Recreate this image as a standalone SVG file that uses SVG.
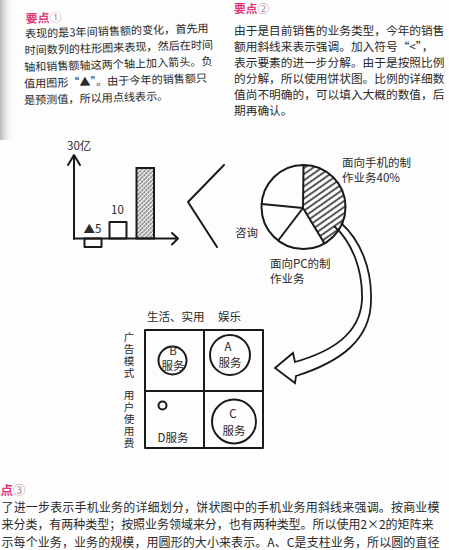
<svg xmlns="http://www.w3.org/2000/svg" width="449" height="550" viewBox="0 0 449 550">
<defs>
<linearGradient id="edge" x1="0" x2="1" y1="0" y2="0"><stop offset="0" stop-color="#b8b8b8"/><stop offset="1" stop-color="#ffffff" stop-opacity="0"/></linearGradient>
<pattern id="hatchBar" width="3" height="3" patternUnits="userSpaceOnUse" patternTransform="rotate(45)"><line x1="1" y1="0" x2="1" y2="3" stroke="#111" stroke-width="1" stroke-dasharray="1.8 0.7"/></pattern>
<pattern id="hatchPie" width="5" height="5" patternUnits="userSpaceOnUse" patternTransform="rotate(55)"><line x1="2" y1="0" x2="2" y2="5" stroke="#111" stroke-width="1.4"/></pattern>
</defs>
<style>
.t{font-family:"Noto Sans CJK SC","Noto Sans",sans-serif;fill:#2a2a2a}
.h{font-family:"Noto Sans CJK SC",sans-serif;font-weight:bold;fill:#e0387f}
.n{fill:#b58aa0;font-weight:normal}
.s{fill:none;stroke:#1a1a1a;stroke-width:2;stroke-linejoin:round;stroke-linecap:round}
.lb{font-family:"Noto Sans CJK SC","Noto Sans",sans-serif;fill:#2a2a2a;font-size:11.5px}
.v{font-size:10.6px;writing-mode:vertical-rl;letter-spacing:1.4px}
.c{text-anchor:middle}
</style>
<rect x="0" y="0" width="449" height="550" fill="#fdfdfd"/>
<rect x="0" y="0" width="14" height="140" fill="url(#edge)"/>

<g id="note1" transform="rotate(-1.8 115 65)">
<text class="h" x="27" y="20.2" font-size="12">要点<tspan class="n">①</tspan></text>
<text class="t" font-size="11.1"><tspan x="26" y="35.1">表现的是3年间销售额的变化，首先用</tspan><tspan x="25" y="51.7">时间数列的柱形图来表现，然后在时间</tspan><tspan x="24" y="68.3">轴和销售额轴这两个轴上加入箭头。负</tspan><tspan x="23.5" y="84.9">值用图形“▲”。由于今年的销售额只</tspan><tspan x="23" y="101.5">是预测值，所以用点线表示。</tspan></text>
</g>

<g id="note2">
<text class="h" x="234" y="12.5" font-size="11.7">要点<tspan class="n">②</tspan></text>
<text class="t" font-size="11.7"><tspan x="234" y="35.4">由于是目前销售的业务类型，今年的销售</tspan><tspan x="234" y="51.4">额用斜线来表示强调。加入符号“&lt;”，</tspan><tspan x="234" y="67.4">表示要素的进一步分解。由于是按照比例</tspan><tspan x="234" y="83.4">的分解，所以使用饼状图。比例的详细数</tspan><tspan x="234" y="99.4">值尚不明确的，可以填入大概的数值，后</tspan><tspan x="234" y="115.4">期再确认。</tspan></text>
</g>

<g id="bar-chart">
<text class="lb" x="67" y="149.5" font-size="11.5">30亿</text>
<path class="s" d="M74 239 V156 M68 165 L74 155 L80 165"/>
<path class="s" d="M74 238.5 H177 M172 233 L178 238.5 L172 244.5"/>
<rect class="s" x="84.5" y="238.5" width="17" height="8.5"/>
<text class="lb" x="83.5" y="233.2" font-size="10.5">▲5</text>
<rect class="s" x="109.5" y="222" width="17" height="16.5"/>
<text class="lb c" x="117.5" y="214.3" font-size="11">10</text>
<rect x="136.5" y="168" width="17.5" height="70.5" fill="url(#hatchBar)" stroke="#1a1a1a" stroke-width="2"/>
</g>

<g id="less-than">
<path class="s" d="M224 165 L188 202 L217 247"/>
</g>

<g id="connectors">
<path d="M341 223 C360 240 372 268 371 300 C371 340 340 362 296 376 L295 383 L275 368 L293 353 L295 362 C330 352 360 335 362 300 C363 270 352 242 334 226" fill="#fff" stroke="#1a1a1a" stroke-width="1.8" stroke-linejoin="miter"/>
</g>

<g id="pie">
<path d="M303.5 207 L303.5 165 A42 42 0 0 1 324.5 243.4 Z" fill="url(#hatchPie)"/>
<circle class="s" cx="303.5" cy="207" r="42"/>
<path class="s" d="M303 208 L303.5 165 M303 208 L324.5 243.4 M303 208 L278.2 240.5 M303 208 L261.6 204.1"/>
<text class="lb"><tspan x="342" y="167.4">面向手机的制</tspan><tspan x="342" y="182.4">作业务40%</tspan></text>
<text class="lb" x="235" y="237.4">咨询</text>
<text class="lb"><tspan x="270" y="268.4">面向PC的制</tspan><tspan x="270" y="283.4">作业务</tspan></text>
</g>

<g id="matrix">
<rect class="s" x="145" y="330" width="118" height="118"/>
<path class="s" d="M204 330 V448 M145 391 H263"/>
<text class="lb" x="147" y="321.4">生活、实用</text>
<text class="lb" x="218" y="321.4">娱乐</text>
<text class="lb v" x="129" y="332">广告模式</text>
<text class="lb v" x="129" y="390">用户使用费</text>
</g>

<g id="service-b">
<circle class="s" cx="172.5" cy="360.5" r="14"/>
<text class="lb c" x="173" y="355.3" font-size="11">B</text>
<text class="lb c" x="173" y="370" font-size="10">服务</text>
</g>
<g id="service-a">
<circle class="s" cx="230" cy="355" r="20"/>
<text class="lb c" x="228" y="350.5" font-size="12">A</text>
<text class="lb c" x="230" y="367.3" font-size="11">服务</text>
</g>
<g id="service-c">
<circle class="s" cx="234" cy="421.5" r="22"/>
<text class="lb c" x="233" y="418.3" font-size="12">C</text>
<text class="lb c" x="234" y="435.3" font-size="11">服务</text>
</g>
<g id="service-d">
<circle class="s" cx="162.5" cy="405.5" r="4"/>
<text class="lb" x="157.5" y="442" font-size="11.5">D服务</text>
</g>

<g id="note3">
<text class="h" x="0.5" y="494.7" font-size="12.5">点<tspan class="n">③</tspan></text>
<text class="t" font-size="12"><tspan x="1.5" y="511.6" textLength="438" lengthAdjust="spacing">了进一步表示手机业务的详细划分，饼状图中的手机业务用斜线来强调。按商业模</tspan><tspan x="1.5" y="529.1" textLength="432" lengthAdjust="spacing">来分类，有两种类型；按照业务领域来分，也有两种类型。所以使用2×2的矩阵来</tspan><tspan x="1.5" y="546.8" textLength="438" lengthAdjust="spacing">示每个业务，业务的规模，用圆形的大小来表示。A、C是支柱业务，所以圆的直径</tspan></text>
</g>
</svg>
